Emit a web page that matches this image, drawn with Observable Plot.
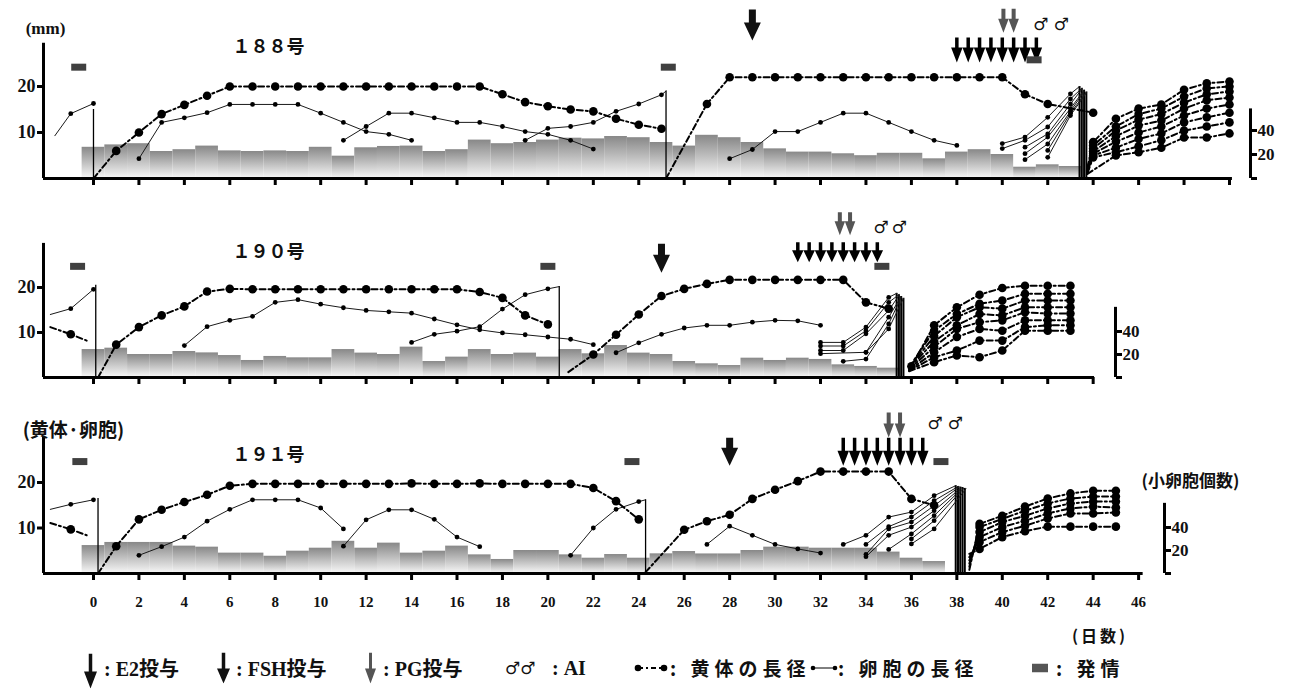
<!DOCTYPE html>
<html><head><meta charset="utf-8">
<script src="https://cdn.jsdelivr.net/npm/d3@7"></script>
<script src="https://cdn.jsdelivr.net/npm/@observablehq/plot@0.6"></script>
<style>
body{margin:0;background:#fff;}
#wrap{position:relative;width:1289px;height:691px;overflow:hidden;background:#fff;}
.panel{position:absolute;left:0;}
.lab{position:absolute;font-family:"Liberation Serif","Noto Sans CJK JP",serif;font-weight:bold;white-space:nowrap;color:#111;line-height:1;}
.cjk{font-family:"Noto Sans CJK JP",sans-serif;}
.lg{position:absolute;top:668px;transform:translateY(-50%);}
</style></head><body>
<svg width="0" height="0" style="position:absolute"><defs><linearGradient id="barGrad" x1="0" y1="0" x2="0" y2="1"><stop offset="0" stop-color="#888"/><stop offset="1" stop-color="#f7f7f7"/></linearGradient></defs></svg>
<div id="wrap"></div>
<script>
// ---------------- DATA ----------------
const xTicks188 = [0,2,4,6,8,10,12,14,16,18,20,22,24,26,28,30,32,34,36,38,40,42,44,46,48,50];
const xTicks190 = [0,2,4,6,8,10,12,14,16,18,20,22,24,26,28,30,32,34,36,38,40,42,44];
const xTicks191 = [0,2,4,6,8,10,12,14,16,18,20,22,24,26,28,30,32,34,36,38,40,42,44,46];
const yTicksMM = [10,20];
const yTicksCount = [0,20,40];

// small follicle counts (bars), one per day from day 0
const bars188 = [26,28,29,22.5,24,27,23,22.5,23,22.5,26,18.6,25.6,26.7,27,22.5,24,32,29,30,32,33.6,33,35,34,30,27,36,34,30,24.7,22,22,20.6,19,21,21,16.4,22,24,20,9.4,11.4,10];
const bars190 = [24.3,25.5,20,20,22.6,21.4,19.1,14.8,18.3,17.1,17.1,24.3,21.2,20,26.4,13.9,17.7,24.3,20,21.2,17.7,24.3,20.6,27.8,21.2,20,13.9,11.9,10.4,16.8,14.8,16.8,15.7,11,9.6,8.1];
const bars191 = [24.3,27,27,27,23.8,22.9,17.7,17.7,15,19.4,22,28,22,26.4,17.7,19.4,23.8,16.2,12.2,20,20,16.2,13.3,16.5,13.3,17.1,19.1,17,17,20,22.9,22.9,22,22,22,18.6,13.3,10.4];

// corpus luteum diameters (mm): series of [day, value]
const cl188 = [
 [[0,0],[1,6.0],[2,10.0],[3,14.0],[4,16.0],[5,18.0],[6,20],[7,20],[8,20],[9,20],[10,20],[11,20],[12,20],[13,20],[14,20],[15,20],[16,20],[17,20],[18,18.3],[19,16.6],[20,15.7],[21,15.0],[22,14.6],[23,13.0],[24,11.7],[25,10.8]],
 [[25.2,0],[27,16.2],[28,22],[29,22],[30,22],[31,22],[32,22],[33,22],[34,22],[35,22],[36,22],[37,22],[38,22],[39,22],[40,22],[41,18.3],[42,16.2],[44,14.3]],
 [[43.75,2.4],[44,7.9],[45,13.0],[46,15.2],[47,16.1],[48,19.3],[49,20.7],[50,21.1]],
 [[43.75,2.2],[44,7.2],[45,11.3],[46,14.0],[47,15.2],[48,17.8],[49,19.6],[50,20.0]],
 [[43.75,2.0],[44,6.5],[45,10.4],[46,12.8],[47,14.0],[48,16.5],[49,18.3],[50,18.9]],
 [[43.75,1.8],[44,5.9],[45,9.2],[46,11.5],[47,12.6],[48,15.2],[49,17.0],[50,17.6]],
 [[43.75,1.6],[44,5.4],[45,8.0],[46,10.0],[47,11.3],[48,13.7],[49,15.2],[50,16.1]],
 [[43.75,1.4],[44,5.0],[45,6.7],[46,8.6],[47,9.8],[48,12.2],[49,13.3],[50,14.3]],
 [[43.75,1.2],[44,4.6],[45,5.7],[46,7.0],[47,8.3],[48,10.4],[49,11.3],[50,12.2]],
 [[43.75,1.0],[45,5.0],[46,5.7],[47,6.7],[48,8.9],[49,8.9],[50,9.8]]
];
// follicle diameters (mm)
const fol188 = [
 [[-1.7,9.3],[-1,14.1],[0,16.3]],
 [[2,4.3],[3,12.2],[4,13.2],[5,14.3],[6,16.1],[7,16.1],[8,16.1],[9,16.1],[10,14.2],[11,12.2],[12,10.2],[13,9.6],[14,8.3]],
 [[11,8.3],[12,11.3],[13,14.2],[14,14.2],[15,13.2],[16,12.2],[17,12.2],[18,11.3],[19,10.2],[20,9.6],[21,8.3],[22,6.4]],
 [[19,8.3],[20,10.9],[21,11.3],[22,12.2],[23,14.6],[24,16.2],[25,18.2],[25.2,19.0]],
 [[28,4.3],[29,6.3],[30,10.2],[31,10.2],[32,12.2],[33,14.2],[34,14.2],[35,12.2],[36,10.2],[37,8.3],[38,7.2]],
 [[40,7.6],[41,9.0],[42,13.3],[43,18.4],[43.4,20.0]],
 [[40,6.5],[41,8.3],[42,11.2],[43,17.3],[43.5,19.6]],
 [[41,6.8],[42,9.7],[43,16.2],[43.5,19.4]],
 [[41,5.4],[42,9.0],[43,15.2],[43.6,19.2]],
 [[41,4.1],[42,7.5],[43,14.6],[43.6,18.9]],
 [[42,6.1],[43,14.2],[43.7,18.8]],
 [[42,4.6],[43,13.7],[43.7,18.6]]
];
// ovulation: [day, top of line]
const ovu188 = [[0,15.0],[25.2,19.0],[43.4,20.0],[43.5,19.6],[43.6,19.2],[43.7,18.8]];
const e2_188 = [29];
const fsh188 = [38,38.5,39,39.5,40,40.5,41,41.5];
const pg188 = [40.05,40.5];
const ai188 = [41.7,42.6];
const estrus188 = [-0.65,25.3,41.4];

const cl190 = [
 [[-1.9,11.2],[-1,9.6],[-0.3,8.2]],
 [[0.2,0],[1,7.3],[2,11.2],[3,13.8],[4,15.8],[5,19.1],[6,19.7],[7,19.6],[8,19.6],[9,19.6],[10,19.6],[11,19.6],[12,19.6],[13,19.6],[14,19.6],[15,19.6],[16,19.6],[17,19.0],[18,17.7],[19,13.8],[20,11.8]],
 [[20.9,1.2],[22,5.1],[23,9.5],[24,14.0],[25,18.1],[26,19.7],[27,20.8],[28,21.7],[29,21.7],[30,21.7],[31,21.7],[32,21.7],[33,21.7],[34,16.7],[35,15.3]],
 [[36,2.5],[37,11.6],[38,15.6],[39,18.4],[40,19.9],[41,20.4],[42,20.4],[43,20.4]],
 [[35.9,2.3],[37,10.4],[38,14.1],[39,16.4],[40,17.1],[41,18.6],[42,18.6],[43,18.6]],
 [[35.9,2.1],[37,9.2],[38,13.4],[39,15.6],[40,15.3],[41,17.1],[42,17.1],[43,17.1]],
 [[35.9,2.0],[37,8.0],[38,11.6],[39,14.1],[40,13.8],[41,15.6],[42,15.6],[43,15.6]],
 [[35.9,1.8],[37,6.8],[38,10.8],[39,12.3],[40,12.7],[41,14.5],[42,14.2],[43,14.2]],
 [[35.9,1.6],[37,5.6],[38,9.0],[39,10.8],[40,10.4],[41,12.7],[42,12.7],[43,12.7]],
 [[35.9,1.5],[37,4.5],[38,6.0],[39,8.2],[40,8.2],[41,11.2],[42,11.6],[43,11.6]],
 [[35.9,1.4],[37,3.4],[38,4.9],[39,4.5],[40,6.0],[41,10.4],[42,10.4],[43,10.4]]
];
const fol190 = [
 [[-1.9,14.0],[-1,15.3],[0,19.6]],
 [[4,7.1],[5,11.3],[6,12.7],[7,13.6],[8,16.7],[9,17.3],[10,16.3],[11,15.5],[12,14.9],[13,14.6],[14,14.3],[15,13.0],[16,11.7],[17,10.6],[18,9.9],[19,9.5],[20,9.0],[21,8.5],[22,7.3]],
 [[14,7.8],[15,9.6],[16,10.3],[17,11.3],[18,15.2],[19,18.4],[20,19.7],[20.5,20.2]],
 [[23,5.5],[24,7.7],[25,9.6],[26,11.0],[27,11.6],[28,11.6],[29,12.3],[30,12.7],[31,12.6],[32,11.6]],
 [[32,7.8],[33,7.8],[34,11.2],[35,17.8],[35.35,18.7]],
 [[32,7.0],[33,7.0],[34,10.4],[35,16.7],[35.45,18.4]],
 [[32,6.0],[33,6.0],[34,9.7],[35,14.9],[35.45,18.2]],
 [[32,5.3],[34,5.6],[35,13.4],[35.55,18.0]],
 [[33,3.6],[34,4.1],[35,11.9],[35.55,17.8]],
 [[34,5.6],[35,10.8],[35.65,17.6]]
];
const ovu190 = [[0.1,20.5],[20.5,20.2],[35.35,18.7],[35.45,18.4],[35.55,18.0],[35.65,17.6]];
const e2_190 = [25];
const fsh190 = [31,31.5,32,32.5,33,33.5,34,34.5];
const pg190 = [32.85,33.3];
const ai190 = [34.67,35.47];
const estrus190 = [-0.7,20.0,34.7];

const cl191 = [
 [[-1.9,11.1],[-1,9.7],[-0.3,8.4]],
 [[0.2,0],[1,6.0],[2,11.9],[3,14.0],[4,15.7],[5,17.3],[6,19.3],[7,19.7],[8,19.7],[9,19.7],[10,19.7],[11,19.7],[12,19.7],[13,19.7],[14,19.8],[15,19.7],[16,19.7],[17,19.8],[18,19.7],[19,19.7],[20,19.7],[21,19.7],[22,18.8],[23,15.9],[24,11.9]],
 [[24.3,0.3],[26,9.6],[27,11.5],[28,12.9],[29,16.4],[30,18.4],[31,20.3],[32,22.4],[33,22.4],[34,22.4],[35,22.4],[36,16.4],[37,15.0]],
 [[38.55,0.8],[39,10.9],[40,12.7],[41,14.7],[42,16.5],[43,17.6],[44,18.2],[45,18.2]],
 [[38.55,1.5],[39,10.2],[40,12.0],[41,13.8],[42,15.4],[43,16.5],[44,16.9],[45,16.9]],
 [[38.55,2.2],[39,9.1],[40,11.3],[41,12.7],[42,14.3],[43,15.4],[44,15.8],[45,15.8]],
 [[38.55,2.9],[39,8.0],[40,10.2],[41,11.6],[42,13.2],[43,14.3],[44,14.7],[45,14.5]],
 [[38.55,3.6],[39,6.9],[40,9.1],[41,10.5],[42,12.1],[43,13.2],[44,13.2],[45,13.4]],
 [[38.55,4.3],[39,5.4],[40,8.0],[41,9.3],[42,10.3],[43,10.3],[44,10.3],[45,10.3]]
];
const fol191 = [
 [[-1.9,14.1],[-1,15.2],[0,16.2]],
 [[2,4.0],[3,5.9],[4,8.0],[5,11.5],[6,14.1],[7,16.2],[8,16.2],[9,16.2],[10,14.4],[11,9.8]],
 [[11,6.0],[12,11.8],[13,14.0],[14,14.0],[15,11.9],[16,8.0],[17,5.9]],
 [[21,4.0],[22,10.0],[23,14.1],[24,15.8],[24.3,16.2]],
 [[27,6.4],[28,10.4],[29,8.4],[30,6.4],[31,5.4],[32,4.5]],
 [[33,6.4],[34,8.4],[35,12.4],[36,13.5],[37,17.1],[37.95,19.3]],
 [[34,6.4],[35,10.3],[36,12.4],[37,16.0],[38.05,19.1]],
 [[34,4.2],[35,9.8],[36,11.3],[37,14.9],[38.1,19.0]],
 [[34,3.7],[35,8.4],[36,10.2],[37,13.8],[38.2,18.9]],
 [[35,5.3],[36,8.7],[37,12.7],[38.25,18.8]],
 [[36,7.6],[37,11.6],[38.3,18.7]],
 [[36,6.5],[37,9.8],[38.4,18.6]]
];
const ovu191 = [[0.2,16.5],[24.3,16.2],[37.95,19.3],[38.05,19.1],[38.15,19.0],[38.25,18.9],[38.35,18.7]];
const e2_191 = [28];
const fsh191 = [33,33.5,34,34.5,35,35.5,36,36.5];
const pg191 = [35.0,35.5];
const ai191 = [37.04,37.94];
const estrus191 = [-0.6,23.7,37.3];

// ---------------- LAYOUT ----------------
const X0 = -2.2, PXD = 22.72, XL = 43, XR = 1232, W = 1289;
const dayAt = px => X0 + (px - XL) / PXD;
const panels = [
 {top:0, height:195, base:178, pxmm:4.6, pxcnt:1.2, xEnd:50.13, rightPx:1250, rightTop:58, yTop:29.4,
  title:"１８８号", titleXY:[268,47], ticks:xTicks188, labels:false,
  bars:bars188, cl:cl188, fol:fol188, ovu:ovu188, e2:e2_188, fsh:fsh188, pg:pg188, ai:ai188, estrus:estrus188,
  e2Tip:30, e2Len:31, fshTip:25.2, fshLen:25, pgTip:31.7, pgLen:24, aiY:33.5, estrusY:[24.2,24.2,25.8],
  extra:[["(mm)",45,28,"Liberation Serif",17]]},
 {top:195, height:195, base:182, pxmm:4.5, pxcnt:1.15, xEnd:44.06, rightPx:1115, rightTop:61, yTop:29.8,
  title:"１９０号", titleXY:[268,57], ticks:xTicks190, labels:false,
  bars:bars190, cl:cl190, fol:fol190, ovu:ovu190, e2:e2_190, fsh:fsh190, pg:pg190, ai:ai190, estrus:estrus190,
  e2Tip:23.3, e2Len:29, fshTip:25.6, fshLen:20, pgTip:31.6, pgLen:23, aiY:33.3, estrusY:[24.7,24.7,24.7],
  extra:[]},
 {top:390, height:225, base:183, pxmm:4.55, pxcnt:1.15, xEnd:46.2, rightPx:1164, rightTop:61, yTop:29.9,
  title:"１９１号", titleXY:[268,65], ticks:xTicks191, labels:true,
  bars:bars191, cl:cl191, fol:fol191, ovu:ovu191, e2:e2_191, fsh:fsh191, pg:pg191, ai:ai191, estrus:estrus191,
  e2Tip:23.7, e2Len:28, fshTip:23.7, fshLen:28, pgTip:29.9, pgLen:25, aiY:33.0, estrusY:[24.6,24.6,24.6],
  extra:[["(黄体·卵胞)",73,40,"Noto Sans CJK JP",19],["(小卵胞個数)",1190,91,"Noto Sans CJK JP",17]]}
];

function arrowSymbol(len, shaftW, headW, headL) {
  return {draw(ctx) {
    const s = shaftW / 2, h = headW / 2;
    ctx.moveTo(-s, -len); ctx.lineTo(s, -len); ctx.lineTo(s, -headL); ctx.lineTo(h, -headL);
    ctx.lineTo(0, 0); ctx.lineTo(-h, -headL); ctx.lineTo(-s, -headL); ctx.closePath();
  }};
}
function rectSymbol(w, h) { return {draw(ctx) { ctx.moveTo(-w/2,-h/2); ctx.lineTo(w/2,-h/2); ctx.lineTo(w/2,h/2); ctx.lineTo(-w/2,h/2); ctx.closePath(); }}; }

const serif = "Liberation Serif";
const wrap = document.getElementById("wrap");

for (const p of panels) {
  const k = p.pxcnt / p.pxmm;
  const rows = list => list.flatMap((s, i) => s.map(([day, v]) => ({s: i, day, v})));
  const cl = rows(p.cl), fol = rows(p.fol);
  const isDay = d => Number.isInteger(d.day) && d.v > 0.5;
  const single = p.ovu.slice(0, 2), multi = p.ovu.slice(2);
  const labelMarks = [[p.title, p.titleXY[0], p.titleXY[1], "Noto Sans CJK JP", 18], ...p.extra].map(([t, x, y, f, s]) =>
    Plot.text([t], {frameAnchor: "top-left", dx: x - XL, dy: y, text: d => d, textAnchor: "middle", lineAnchor: "middle",
      fontFamily: f, fontWeight: "bold", fontSize: s, fill: "#111"}));
  const chart = Plot.plot({
    width: W, height: p.height,
    marginLeft: XL, marginRight: W - p.rightPx, marginTop: 0, marginBottom: p.height - p.base,
    style: {background: "#fff", overflow: "visible"},
    x: {domain: [X0, X0 + (XR - XL) / PXD], range: [XL, XR], label: null},
    y: {domain: [0, 10], range: [p.base, p.base - 10 * p.pxmm], label: null},
    marks: [
      Plot.rect(p.bars.map((c, i) => ({day: i, c})), {x1: d => d.day - 0.5, x2: d => d.day + 0.5, y1: 0, y2: d => d.c * k, fill: "url(#barGrad)"}),
      Plot.ruleX(single, {x: d => d[0], y1: 0, y2: d => d[1], stroke: "#000", strokeWidth: 1.3}),
      Plot.ruleX(multi, {x: d => d[0], y1: 0, y2: d => d[1], stroke: "#000", strokeWidth: 2}),
      Plot.line(fol, {x: "day", y: "v", z: "s", stroke: "#1a1a1a", strokeWidth: 1}),
      Plot.dot(fol.filter(isDay), {x: "day", y: "v", r: 2.4, fill: "#000", stroke: "none"}),
      Plot.line(cl, {x: "day", y: "v", z: "s", stroke: "#000", strokeWidth: 2, strokeDasharray: "6,3,2,3"}),
      Plot.dot(cl.filter(isDay), {x: "day", y: "v", r: 4.3, fill: "#000", stroke: "none"}),
      // axes
      Plot.ruleY([0], {x1: X0, x2: p.xEnd, stroke: "#000", strokeWidth: 3}),
      Plot.axisX(p.ticks, {anchor: "bottom", tickSize: 7, strokeWidth: 3, label: null, fill: p.labels ? "#111" : "none",
        tickPadding: 16, fontSize: 15, fontWeight: "bold", fontFamily: serif}),
      Plot.ruleX([X0], {x: d => d, y1: 0, y2: p.yTop, stroke: "#000", strokeWidth: 3}),
      Plot.axisY(yTicksMM, {anchor: "left", tickSize: 6, strokeWidth: 3, label: null, tickPadding: 2, fontSize: 18, fontWeight: "bold", fontFamily: serif, fill: "#111"}),
      Plot.ruleX([dayAt(p.rightPx)], {x: d => d, y1: 0, y2: p.rightTop * k, stroke: "#000", strokeWidth: 3}),
      Plot.axisY(yTicksCount.map(c => c * k), {anchor: "right", tickSize: 6, strokeWidth: 3, label: null, tickPadding: 1,
        tickFormat: v => { const c = Math.round(v / k); return c === 0 ? "" : String(c); },
        fontSize: 17, fontWeight: "bold", fontFamily: serif, fill: "#111"}),
      // treatments
      Plot.dot(p.e2, {x: d => d, y: p.e2Tip, symbol: arrowSymbol(p.e2Len, 7, 17, 18), fill: "#111", stroke: "none"}),
      Plot.dot(p.fsh, {x: d => d, y: p.fshTip, symbol: arrowSymbol(p.fshLen, 3.5, 11.5, Math.min(15, p.fshLen * 0.6)), fill: "#000", stroke: "none"}),
      Plot.dot(p.pg, {x: d => d, y: p.pgTip, symbol: arrowSymbol(p.pgLen, 4, 10.5, 14), fill: "#555", stroke: "none"}),
      Plot.dot(p.estrus.map((d, i) => ({day: d, y: p.estrusY[i]})), {x: "day", y: "y", symbol: rectSymbol(15, 7), fill: "#404040", stroke: "none"}),
      Plot.text(p.ai, {x: d => d, y: p.aiY, text: () => "♂", fontSize: 17, fontFamily: "DejaVu Sans", fill: "#111"}),
      ...labelMarks
    ]
  });
  chart.classList.add("panel");
  chart.style.top = p.top + "px";
  wrap.appendChild(chart);
}

// ---------------- LEGEND (HTML) ----------------
function arrowSvg(color, sw, hw, len, hl) {
  const w = hw + 2, c = w / 2;
  return `<svg width="${w}" height="${len}" style="display:block"><polygon fill="${color}" points="${c - sw/2},0 ${c + sw/2},0 ${c + sw/2},${len - hl} ${c + hw/2},${len - hl} ${c},${len} ${c - hw/2},${len - hl} ${c - sw/2},${len - hl}"/></svg>`;
}
const legendItems = [
  {x: 83, y: 671, html: arrowSvg("#111", 3.5, 13, 35, 17)},
  {x: 104, html: ":&nbsp;E2<span class='cjk'>投与</span>", size: 20},
  {x: 216, y: 668, html: arrowSvg("#111", 3.5, 13, 31, 15)},
  {x: 236, html: ":&nbsp;FSH<span class='cjk'>投与</span>", size: 20},
  {x: 364, y: 668, html: arrowSvg("#555", 3, 11, 31, 15)},
  {x: 383, html: ":&nbsp;PG<span class='cjk'>投与</span>", size: 20},
  {x: 505, html: "<span style='font-family:DejaVu Sans;font-weight:normal'>♂♂</span>", size: 17},
  {x: 552, html: ":&nbsp;AI", size: 20},
  {x: 634, html: `<svg width="34" height="10" style="display:block"><line x1="4" y1="5" x2="30" y2="5" stroke="#000" stroke-width="2" stroke-dasharray="5,3,2,3"/><circle cx="4" cy="5" r="3.3"/><circle cx="30" cy="5" r="3.3"/></svg>`},
  {x: 670, html: "<span class='cjk' style='letter-spacing:5px'>: 黄体の長径</span>", size: 19},
  {x: 810, html: `<svg width="28" height="8" style="display:block"><line x1="3" y1="4" x2="25" y2="4" stroke="#000" stroke-width="1"/><circle cx="3" cy="4" r="2.3"/><circle cx="25" cy="4" r="2.3"/></svg>`},
  {x: 838, html: "<span class='cjk' style='letter-spacing:5px'>: 卵胞の長径</span>", size: 19},
  {x: 1032, html: `<svg width="16" height="9" style="display:block"><rect width="16" height="9" fill="#555"/></svg>`},
  {x: 1056, html: "<span class='cjk' style='letter-spacing:5px'>: 発情</span>", size: 19}
];
for (const it of legendItems) {
  const el = document.createElement("div");
  el.className = "lab lg";
  el.style.left = it.x + "px";
  if (it.y) el.style.top = it.y + "px";
  if (it.size) el.style.fontSize = it.size + "px";
  el.innerHTML = it.html;
  wrap.appendChild(el);
}
const days = document.createElement("div");
days.className = "lab";
days.style.cssText = "left:1072px;top:627px;font-size:16px;letter-spacing:3px;";
days.innerHTML = "<span class='cjk'>(日数)</span>";
wrap.appendChild(days);
</script>
</body></html>
